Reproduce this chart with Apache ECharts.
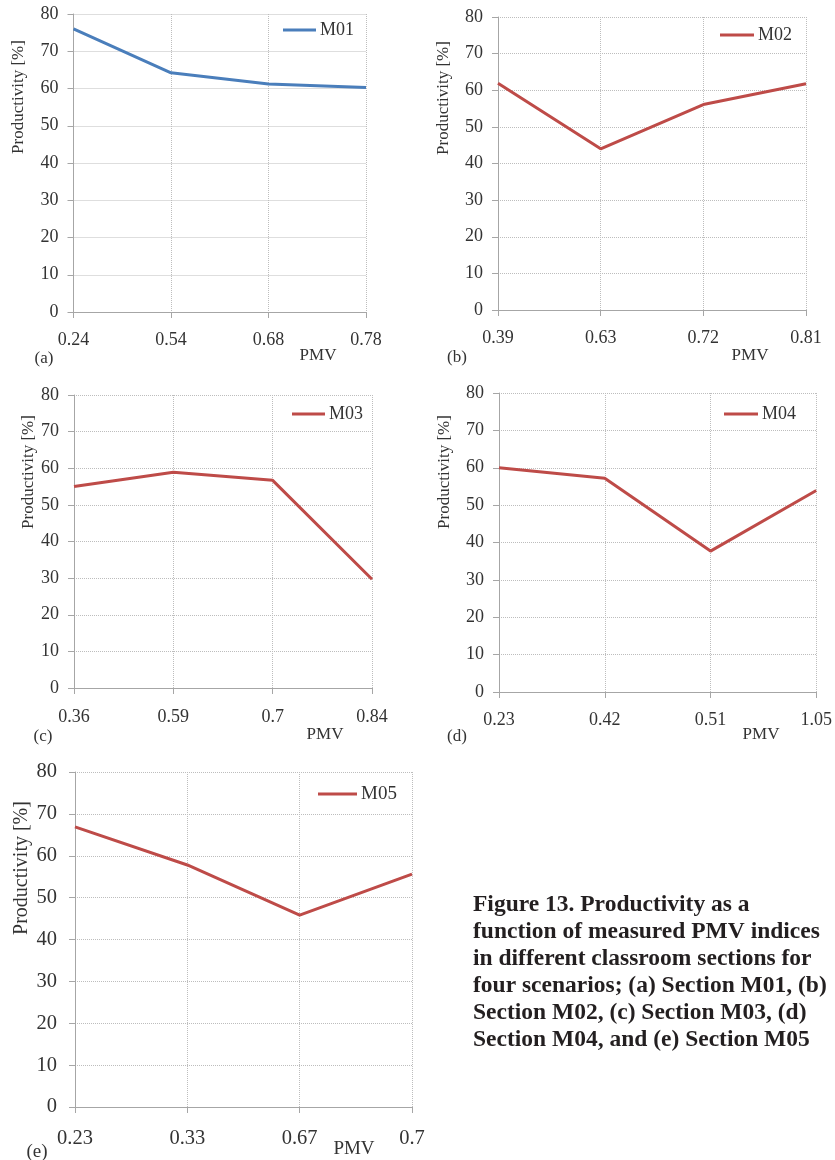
<!DOCTYPE html>
<html>
<head>
<meta charset="utf-8">
<script src="https://cdn.jsdelivr.net/npm/echarts@6/dist/echarts.min.js"></script>
<style>
  html, body { margin: 0; padding: 0; background: #fff; }
  #chart { width: 835px; height: 1160px; }
</style>
</head>
<body>
<div id="chart"></div>
<script>
// PMV categories and productivity [%] per section
const pmvM01 = ['0.24', '0.54', '0.68', '0.78'];
const prodM01 = [76, 64.2, 61.2, 60.3];
const pmvM02 = ['0.39', '0.63', '0.72', '0.81'];
const prodM02 = [61.9, 44, 56.1, 61.8];
const pmvM03 = ['0.36', '0.59', '0.7', '0.84'];
const prodM03 = [55, 58.9, 56.7, 29.7];
const pmvM04 = ['0.23', '0.42', '0.51', '1.05'];
const prodM04 = [60, 57.2, 37.7, 53.9];
const pmvM05 = ['0.23', '0.33', '0.67', '0.7'];
const prodM05 = [66.9, 57.8, 45.8, 55.6];
const yTicks = [0, 10, 20, 30, 40, 50, 60, 70, 80];

const SERIF = "'Liberation Serif', 'Times New Roman', serif";
const BLUE = '#4a7ebb';
const RED = '#be4b48';

// panel layout: grid box, font size, labels
const panels = [
  {name: 'M01', cats: pmvM01, vals: prodM01, color: BLUE, grid: [73.5, 14, 292.5, 298], fs: 18, lm: 19,
   legend: [283, 30, 33], tag: ['(a)', 44, 359], pmv: [318, 356], yname: [19, 97]},
  {name: 'M02', cats: pmvM02, vals: prodM02, color: RED, grid: [498, 17, 308, 293], fs: 18, lm: 19,
   legend: [720, 35, 34], tag: ['(b)', 457, 358], pmv: [750, 356], yname: [444, 98]},
  {name: 'M03', cats: pmvM03, vals: prodM03, color: RED, grid: [74, 395, 298, 293], fs: 18, lm: 20,
   legend: [292, 414, 33], tag: ['(c)', 43, 737], pmv: [325, 735], yname: [29, 472]},
  {name: 'M04', cats: pmvM04, vals: prodM04, color: RED, grid: [499, 393, 319, 299], fs: 18, lm: 19,
   legend: [724, 414, 34], tag: ['(d)', 457, 737], pmv: [761, 735], yname: [445, 472]},
  {name: 'M05', cats: pmvM05, vals: prodM05, color: RED, grid: [75, 772, 337, 335], fs: 20.5, lm: 21,
   legend: [318, 794, 39], tag: ['(e)', 37, 1152], pmv: [354, 1149], yname: [22, 868]}
];

const chart = echarts.init(document.getElementById('chart'));

const grids = [], xAxes = [], yAxes = [], series = [], legends = [], graphics = [];

panels.forEach((p, i) => {
  grids.push({left: p.grid[0], top: p.grid[1], width: p.grid[2], height: p.grid[3], containLabel: false});
  xAxes.push({
    type: 'category', gridIndex: i, data: p.cats, boundaryGap: false,
    axisLine: {lineStyle: {color: '#a6a6a6', width: 1}},
    axisTick: {show: true, length: 6, lineStyle: {color: '#a6a6a6'}},
    axisLabel: {color: '#333', fontFamily: SERIF, fontSize: p.fs, margin: p.lm},
    splitLine: {show: true, lineStyle: {type: 'dotted', color: '#bdbdbd'}}
  });
  yAxes.push({
    type: 'value', gridIndex: i, min: yTicks[0], max: yTicks[yTicks.length - 1], interval: 10,
    axisLine: {show: true, lineStyle: {color: '#a6a6a6', width: 1}},
    axisTick: {show: true, length: 6, lineStyle: {color: '#a6a6a6'}},
    axisLabel: {color: '#333', fontFamily: SERIF, fontSize: p.fs, margin: i === 4 ? 18 : 15},
    splitLine: {show: true, lineStyle: {type: 'dotted', color: '#bdbdbd'}}
  });
  series.push({
    name: p.name, type: 'line', xAxisIndex: i, yAxisIndex: i, data: p.vals,
    showSymbol: false, symbol: 'none', color: p.color,
    lineStyle: {color: p.color, width: 3}
  });
  const lfs = i === 4 ? 19 : 18;
  legends.push({
    data: [p.name], left: p.legend[0], top: p.legend[1] - lfs / 2, padding: 0,
    icon: 'rect', itemWidth: p.legend[2], itemHeight: 3, itemGap: 4,
    textStyle: {fontFamily: SERIF, fontSize: lfs, color: '#333', lineHeight: lfs, padding: [0, 0, 0, -1]},
    selectedMode: false
  });
  graphics.push({
    type: 'text', x: p.tag[1], y: p.tag[2],
    style: {text: p.tag[0], font: (i === 4 ? 19 : 17) + 'px ' + SERIF, fill: '#333', align: 'center', verticalAlign: 'middle'}
  });
  graphics.push({
    type: 'text', x: p.pmv[0], y: p.pmv[1],
    style: {text: 'PMV', font: (i === 4 ? 19 : 17) + 'px ' + SERIF, fill: '#333', align: 'center', verticalAlign: 'middle'}
  });
  graphics.push({
    type: 'text', x: p.yname[0], y: p.yname[1], rotation: Math.PI / 2,
    style: {text: 'Productivity [%]', font: (i === 4 ? 20 : 17) + 'px ' + SERIF, fill: '#333', align: 'center', verticalAlign: 'middle'}
  });
});

graphics.push({
  type: 'text', x: 473, y: 891,
  style: {
    text: 'Figure 13. Productivity as a\nfunction of measured PMV indices\nin different classroom sections for\nfour scenarios; (a) Section M01, (b)\nSection M02, (c) Section M03, (d)\nSection M04, and (e) Section M05',
    font: 'bold 23.5px ' + SERIF, fill: '#231f20', lineHeight: 27, align: 'left', verticalAlign: 'top'
  }
});

chart.setOption({
  animation: false,
  backgroundColor: '#fff',
  grid: grids,
  xAxis: xAxes,
  yAxis: yAxes,
  legend: legends,
  series: series,
  graphic: graphics
});
</script>
</body>
</html>
